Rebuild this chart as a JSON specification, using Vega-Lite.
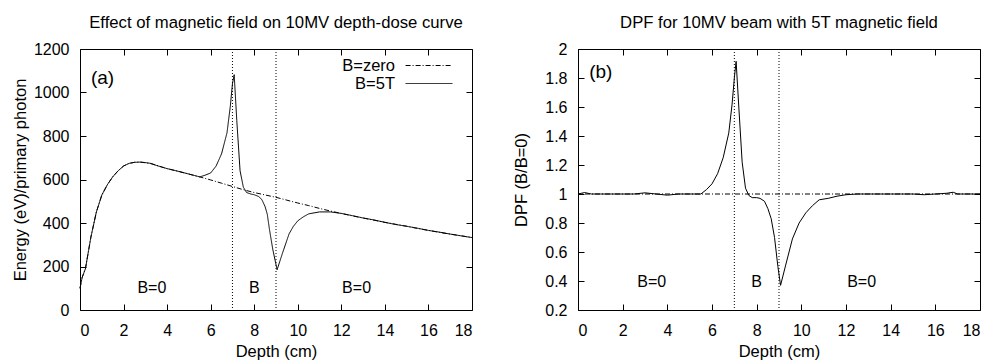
{
  "$schema": "https://vega.github.io/schema/vega-lite/v6.json",
  "padding": {"left": 11, "top": 14, "right": 4, "bottom": 2},
  "bounds": "flush",
  "spacing": 106,
  "config": {
    "font": "Liberation Sans",
    "view": {"stroke": "#000", "strokeWidth": 1},
    "axis": {"domain": false, "grid": false, "tickSize": -6, "tickColor": "#000", "tickWidth": 1, "labelFontSize": 16, "labelColor": "#000", "titleFontSize": 16.5, "titleFontWeight": "normal", "titleColor": "#000"},
    "axisX": {"labelPadding": 18, "titlePadding": 5},
    "axisY": {"labelPadding": 17},
    "title": {"fontSize": 16.7, "fontWeight": "normal", "color": "#000", "anchor": "middle", "baseline": "alphabetic", "offset": 9}
  },
  "datasets": {
    "dose": [
      {"depth": 0, "energy": 100, "series": "B=zero"},
      {"depth": 0.1, "energy": 150, "series": "B=zero"},
      {"depth": 0.25, "energy": 190, "series": "B=zero"},
      {"depth": 0.5, "energy": 335, "series": "B=zero"},
      {"depth": 0.75, "energy": 450, "series": "B=zero"},
      {"depth": 1, "energy": 528, "series": "B=zero"},
      {"depth": 1.25, "energy": 575, "series": "B=zero"},
      {"depth": 1.5, "energy": 612, "series": "B=zero"},
      {"depth": 1.75, "energy": 640, "series": "B=zero"},
      {"depth": 2, "energy": 662, "series": "B=zero"},
      {"depth": 2.25, "energy": 674, "series": "B=zero"},
      {"depth": 2.5, "energy": 679, "series": "B=zero"},
      {"depth": 2.75, "energy": 680, "series": "B=zero"},
      {"depth": 3, "energy": 677, "series": "B=zero"},
      {"depth": 3.25, "energy": 673, "series": "B=zero"},
      {"depth": 3.5, "energy": 666, "series": "B=zero"},
      {"depth": 3.75, "energy": 658, "series": "B=zero"},
      {"depth": 4, "energy": 650, "series": "B=zero"},
      {"depth": 4.5, "energy": 638, "series": "B=zero"},
      {"depth": 5, "energy": 625, "series": "B=zero"},
      {"depth": 5.5, "energy": 612, "series": "B=zero"},
      {"depth": 6, "energy": 598, "series": "B=zero"},
      {"depth": 6.5, "energy": 583, "series": "B=zero"},
      {"depth": 7, "energy": 568, "series": "B=zero"},
      {"depth": 7.5, "energy": 553, "series": "B=zero"},
      {"depth": 8, "energy": 540, "series": "B=zero"},
      {"depth": 8.5, "energy": 529, "series": "B=zero"},
      {"depth": 9, "energy": 518, "series": "B=zero"},
      {"depth": 9.5, "energy": 505, "series": "B=zero"},
      {"depth": 10, "energy": 492, "series": "B=zero"},
      {"depth": 10.5, "energy": 480, "series": "B=zero"},
      {"depth": 11, "energy": 467, "series": "B=zero"},
      {"depth": 11.5, "energy": 455, "series": "B=zero"},
      {"depth": 12, "energy": 444, "series": "B=zero"},
      {"depth": 12.5, "energy": 433, "series": "B=zero"},
      {"depth": 13, "energy": 423, "series": "B=zero"},
      {"depth": 13.5, "energy": 413, "series": "B=zero"},
      {"depth": 14, "energy": 403, "series": "B=zero"},
      {"depth": 14.5, "energy": 394, "series": "B=zero"},
      {"depth": 15, "energy": 385, "series": "B=zero"},
      {"depth": 15.5, "energy": 375, "series": "B=zero"},
      {"depth": 16, "energy": 366, "series": "B=zero"},
      {"depth": 16.5, "energy": 357, "series": "B=zero"},
      {"depth": 17, "energy": 349, "series": "B=zero"},
      {"depth": 17.5, "energy": 341, "series": "B=zero"},
      {"depth": 18, "energy": 333, "series": "B=zero"},
      {"depth": 0, "energy": 100, "series": "B=5T"},
      {"depth": 0.1, "energy": 150, "series": "B=5T"},
      {"depth": 0.25, "energy": 190, "series": "B=5T"},
      {"depth": 0.5, "energy": 335, "series": "B=5T"},
      {"depth": 0.75, "energy": 450, "series": "B=5T"},
      {"depth": 1, "energy": 528, "series": "B=5T"},
      {"depth": 1.25, "energy": 575, "series": "B=5T"},
      {"depth": 1.5, "energy": 612, "series": "B=5T"},
      {"depth": 1.75, "energy": 640, "series": "B=5T"},
      {"depth": 2, "energy": 662, "series": "B=5T"},
      {"depth": 2.25, "energy": 674, "series": "B=5T"},
      {"depth": 2.5, "energy": 679, "series": "B=5T"},
      {"depth": 2.75, "energy": 680, "series": "B=5T"},
      {"depth": 3, "energy": 678, "series": "B=5T"},
      {"depth": 3.25, "energy": 674, "series": "B=5T"},
      {"depth": 3.5, "energy": 665, "series": "B=5T"},
      {"depth": 3.75, "energy": 657, "series": "B=5T"},
      {"depth": 4, "energy": 650, "series": "B=5T"},
      {"depth": 4.5, "energy": 638, "series": "B=5T"},
      {"depth": 5, "energy": 625, "series": "B=5T"},
      {"depth": 5.5, "energy": 612, "series": "B=5T"},
      {"depth": 5.75, "energy": 620, "series": "B=5T"},
      {"depth": 6, "energy": 630, "series": "B=5T"},
      {"depth": 6.25, "energy": 662, "series": "B=5T"},
      {"depth": 6.5, "energy": 718, "series": "B=5T"},
      {"depth": 6.75, "energy": 815, "series": "B=5T"},
      {"depth": 6.9, "energy": 935, "series": "B=5T"},
      {"depth": 7, "energy": 1040, "series": "B=5T"},
      {"depth": 7.08, "energy": 1082, "series": "B=5T"},
      {"depth": 7.2, "energy": 870, "series": "B=5T"},
      {"depth": 7.35, "energy": 640, "series": "B=5T"},
      {"depth": 7.5, "energy": 565, "series": "B=5T"},
      {"depth": 7.65, "energy": 540, "series": "B=5T"},
      {"depth": 7.85, "energy": 533, "series": "B=5T"},
      {"depth": 8, "energy": 530, "series": "B=5T"},
      {"depth": 8.2, "energy": 522, "series": "B=5T"},
      {"depth": 8.35, "energy": 508, "series": "B=5T"},
      {"depth": 8.5, "energy": 475, "series": "B=5T"},
      {"depth": 8.6, "energy": 440, "series": "B=5T"},
      {"depth": 8.7, "energy": 370, "series": "B=5T"},
      {"depth": 8.85, "energy": 280, "series": "B=5T"},
      {"depth": 9.05, "energy": 185, "series": "B=5T"},
      {"depth": 9.3, "energy": 262, "series": "B=5T"},
      {"depth": 9.6, "energy": 350, "series": "B=5T"},
      {"depth": 9.8, "energy": 385, "series": "B=5T"},
      {"depth": 10, "energy": 410, "series": "B=5T"},
      {"depth": 10.25, "energy": 428, "series": "B=5T"},
      {"depth": 10.5, "energy": 442, "series": "B=5T"},
      {"depth": 11, "energy": 451, "series": "B=5T"},
      {"depth": 11.5, "energy": 451, "series": "B=5T"},
      {"depth": 12, "energy": 444, "series": "B=5T"},
      {"depth": 12.5, "energy": 434, "series": "B=5T"},
      {"depth": 13, "energy": 423, "series": "B=5T"},
      {"depth": 13.5, "energy": 414, "series": "B=5T"},
      {"depth": 14, "energy": 403, "series": "B=5T"},
      {"depth": 14.5, "energy": 393, "series": "B=5T"},
      {"depth": 15, "energy": 385, "series": "B=5T"},
      {"depth": 15.5, "energy": 376, "series": "B=5T"},
      {"depth": 16, "energy": 366, "series": "B=5T"},
      {"depth": 16.5, "energy": 358, "series": "B=5T"},
      {"depth": 17, "energy": 349, "series": "B=5T"},
      {"depth": 17.5, "energy": 341, "series": "B=5T"},
      {"depth": 18, "energy": 333, "series": "B=5T"}
    ],
    "dpf": [
      {"depth": 0, "dpf": 1.0},
      {"depth": 0.3, "dpf": 1.01},
      {"depth": 0.6, "dpf": 1.0},
      {"depth": 1, "dpf": 1.0},
      {"depth": 1.5, "dpf": 1.0},
      {"depth": 2, "dpf": 1.0},
      {"depth": 2.5, "dpf": 1.0},
      {"depth": 3, "dpf": 1.008},
      {"depth": 3.5, "dpf": 1.0},
      {"depth": 4, "dpf": 0.992},
      {"depth": 4.5, "dpf": 1.0},
      {"depth": 5, "dpf": 1.0},
      {"depth": 5.5, "dpf": 1.0},
      {"depth": 5.75, "dpf": 1.03},
      {"depth": 6, "dpf": 1.07},
      {"depth": 6.25, "dpf": 1.14},
      {"depth": 6.5, "dpf": 1.25},
      {"depth": 6.75, "dpf": 1.42},
      {"depth": 6.9, "dpf": 1.62},
      {"depth": 7, "dpf": 1.8},
      {"depth": 7.08, "dpf": 1.915},
      {"depth": 7.2, "dpf": 1.6},
      {"depth": 7.35, "dpf": 1.22},
      {"depth": 7.5, "dpf": 1.04},
      {"depth": 7.65, "dpf": 0.99},
      {"depth": 7.8, "dpf": 0.975},
      {"depth": 8, "dpf": 0.975},
      {"depth": 8.15, "dpf": 0.97},
      {"depth": 8.35, "dpf": 0.95},
      {"depth": 8.5, "dpf": 0.9},
      {"depth": 8.65, "dpf": 0.83},
      {"depth": 8.8, "dpf": 0.7},
      {"depth": 8.95, "dpf": 0.5},
      {"depth": 9.07, "dpf": 0.37},
      {"depth": 9.3, "dpf": 0.51},
      {"depth": 9.6, "dpf": 0.69},
      {"depth": 9.9, "dpf": 0.8},
      {"depth": 10.2, "dpf": 0.87},
      {"depth": 10.5, "dpf": 0.92},
      {"depth": 10.8, "dpf": 0.96},
      {"depth": 11.2, "dpf": 0.97},
      {"depth": 11.6, "dpf": 0.985},
      {"depth": 12, "dpf": 0.995},
      {"depth": 12.5, "dpf": 1.0},
      {"depth": 13, "dpf": 1.0},
      {"depth": 13.5, "dpf": 1.0},
      {"depth": 14, "dpf": 1.0},
      {"depth": 14.5, "dpf": 1.0},
      {"depth": 15, "dpf": 1.0},
      {"depth": 15.5, "dpf": 0.995},
      {"depth": 16, "dpf": 1.0},
      {"depth": 16.5, "dpf": 1.005},
      {"depth": 16.8, "dpf": 1.012},
      {"depth": 17, "dpf": 1.0},
      {"depth": 17.5, "dpf": 1.0},
      {"depth": 18, "dpf": 1.0}
    ],
    "boundaries": [{"depth": 7}, {"depth": 9}],
    "regions": [
      {"depth": 3.3, "label": "B=0"},
      {"depth": 8.0, "label": "B"},
      {"depth": 12.7, "label": "B=0"}
    ]
  },
  "hconcat": [
    {
      "title": "Effect of magnetic field on 10MV depth-dose curve",
      "width": 392,
      "height": 261,
      "resolve": {"axis": {"x": "independent", "y": "independent"}},
      "layer": [
        {
          "data": {"name": "boundaries"},
          "mark": {"type": "rule", "stroke": "#000", "strokeWidth": 1, "strokeDash": [1, 2]},
          "encoding": {
            "x": {"field": "depth", "type": "quantitative", "scale": {"domain": [0, 18], "nice": false},
                  "axis": {"orient": "top", "labels": false, "title": null, "values": [0, 2, 4, 6, 8, 10, 12, 14, 16, 18]}}
          }
        },
        {
          "data": {"name": "dose"},
          "mark": {"type": "line", "stroke": "#000", "strokeWidth": 1},
          "encoding": {
            "x": {"field": "depth", "type": "quantitative", "scale": {"domain": [0, 18], "nice": false},
                  "axis": {"orient": "bottom", "title": "Depth (cm)", "values": [0, 2, 4, 6, 8, 10, 12, 14, 16, 18]}},
            "y": {"field": "energy", "type": "quantitative", "scale": {"domain": [0, 1200], "nice": false},
                  "axis": {"orient": "left", "title": "Energy (eV)/primary photon", "titlePadding": 5, "values": [0, 200, 400, 600, 800, 1000, 1200], "format": "d"}},
            "strokeDash": {"field": "series", "type": "nominal",
                  "scale": {"domain": ["B=zero", "B=5T"], "range": [[5, 2, 1, 2], [1, 0]]},
                  "legend": {"orient": "none", "legendX": 339.5, "legendY": 7, "title": null, "symbolType": "M-2.6,0H2.6", "symbolSize": 324, "symbolStrokeWidth": 1, "symbolStrokeColor": "#000", "symbolFillColor": "transparent", "labelAlign": "right", "labelOffset": -43.5, "labelFontSize": 16.5, "labelColor": "#000", "rowPadding": 0, "padding": 0}}
          }
        },
        {
          "data": {"name": "regions"},
          "mark": {"type": "text", "fontSize": 16, "color": "#000", "align": "center", "baseline": "middle"},
          "encoding": {
            "x": {"field": "depth", "type": "quantitative", "scale": {"domain": [0, 18], "nice": false}, "axis": null},
            "y": {"datum": 100, "type": "quantitative", "scale": {"domain": [0, 1200], "nice": false},
                  "axis": {"orient": "right", "labels": false, "title": null, "values": [0, 200, 400, 600, 800, 1000, 1200]}},
            "text": {"field": "label"}
          }
        },
        {
          "data": {"values": [{"label": "(a)"}]},
          "mark": {"type": "text", "fontSize": 19, "color": "#000", "align": "left", "baseline": "alphabetic"},
          "encoding": {
            "x": {"datum": 0.5, "type": "quantitative", "axis": null},
            "y": {"datum": 1040, "type": "quantitative", "axis": null},
            "text": {"field": "label"}
          }
        }
      ]
    },
    {
      "title": "DPF for 10MV beam with 5T magnetic field",
      "width": 402,
      "height": 261,
      "resolve": {"axis": {"x": "independent", "y": "independent"}},
      "layer": [
        {
          "data": {"name": "boundaries"},
          "mark": {"type": "rule", "stroke": "#000", "strokeWidth": 1, "strokeDash": [1, 2]},
          "encoding": {
            "x": {"field": "depth", "type": "quantitative", "scale": {"domain": [0, 18], "nice": false},
                  "axis": {"orient": "top", "labels": false, "title": null, "values": [0, 2, 4, 6, 8, 10, 12, 14, 16, 18]}}
          }
        },
        {
          "data": {"values": [{"ratio": 1}]},
          "mark": {"type": "rule", "stroke": "#000", "strokeWidth": 1, "strokeDash": [5, 2, 1, 2]},
          "encoding": {
            "y": {"field": "ratio", "type": "quantitative", "scale": {"domain": [0.2, 2], "nice": false, "zero": false}, "axis": null}
          }
        },
        {
          "data": {"name": "dpf"},
          "mark": {"type": "line", "stroke": "#000", "strokeWidth": 1},
          "encoding": {
            "x": {"field": "depth", "type": "quantitative", "scale": {"domain": [0, 18], "nice": false},
                  "axis": {"orient": "bottom", "title": "Depth (cm)", "values": [0, 2, 4, 6, 8, 10, 12, 14, 16, 18]}},
            "y": {"field": "dpf", "type": "quantitative", "scale": {"domain": [0.2, 2], "nice": false, "zero": false},
                  "axis": {"orient": "left", "title": "DPF (B/B=0)", "titlePadding": 15, "values": [0.2, 0.4, 0.6, 0.8, 1, 1.2, 1.4, 1.6, 1.8, 2], "format": "~g"}}
          }
        },
        {
          "data": {"name": "regions"},
          "mark": {"type": "text", "fontSize": 16, "color": "#000", "align": "center", "baseline": "middle"},
          "encoding": {
            "x": {"field": "depth", "type": "quantitative", "scale": {"domain": [0, 18], "nice": false}, "axis": null},
            "y": {"datum": 0.39, "type": "quantitative", "scale": {"domain": [0.2, 2], "nice": false, "zero": false},
                  "axis": {"orient": "right", "labels": false, "title": null, "values": [0.2, 0.4, 0.6, 0.8, 1, 1.2, 1.4, 1.6, 1.8, 2]}},
            "text": {"field": "label"}
          }
        },
        {
          "data": {"values": [{"label": "(b)"}]},
          "mark": {"type": "text", "fontSize": 19, "color": "#000", "align": "left", "baseline": "alphabetic"},
          "encoding": {
            "x": {"datum": 0.5, "type": "quantitative", "axis": null},
            "y": {"datum": 1.8, "type": "quantitative", "axis": null},
            "text": {"field": "label"}
          }
        }
      ]
    }
  ]
}
